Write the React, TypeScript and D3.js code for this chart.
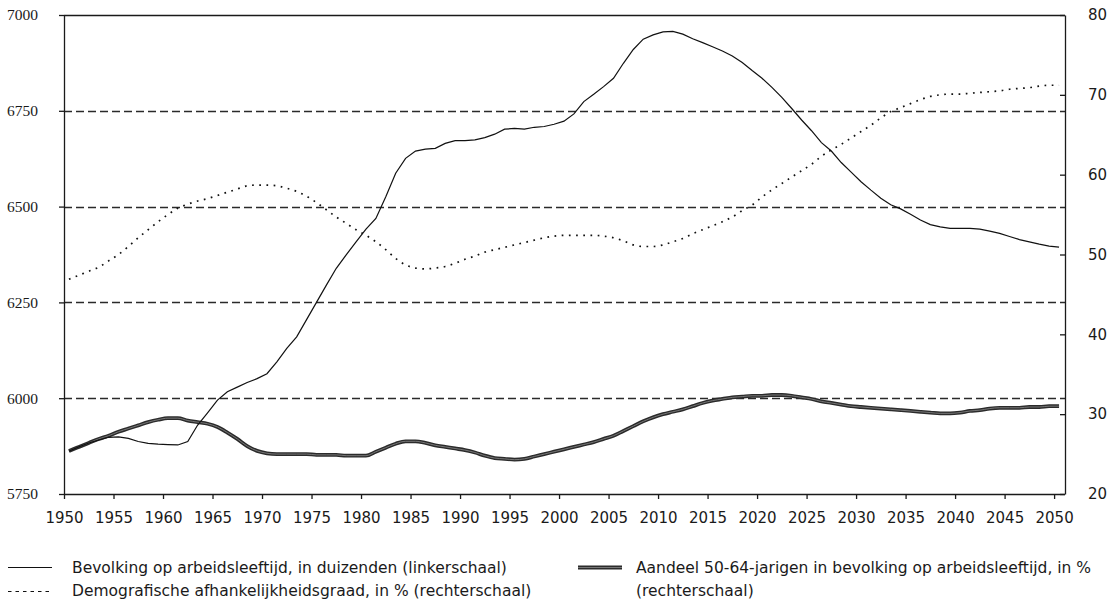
import React, { useEffect, useRef } from 'react'
import * as d3 from 'd3'

const firstYear = 1950
const lastYear = 2050
const years = d3.range(firstYear, lastYear + 1)

// Bevolking op arbeidsleeftijd, in duizenden (linkerschaal)
const bevolking = [
  5862, 5873, 5883, 5891, 5898, 5899, 5895, 5887, 5882, 5880,
  5879, 5878, 5887, 5930, 5962, 5995, 6017, 6029, 6041, 6051,
  6064, 6095, 6130, 6160, 6205, 6250, 6295, 6339, 6374, 6408,
  6441, 6469, 6526, 6587, 6626, 6645, 6650, 6652, 6665, 6672,
  6672, 6674, 6680, 6689, 6702, 6704, 6702, 6707, 6709, 6715,
  6723, 6742, 6774, 6793, 6813, 6835, 6874, 6910, 6937, 6948,
  6956, 6957, 6950, 6938, 6928, 6917, 6906, 6893, 6876, 6855,
  6835, 6811, 6785, 6756, 6726, 6698, 6667, 6645, 6615, 6590,
  6565, 6543, 6522, 6505, 6494, 6480, 6465, 6453, 6447, 6443,
  6443, 6443, 6441, 6436, 6430, 6422, 6414, 6408, 6402, 6397,
  6394,
]

// Demografische afhankelijkheidsgraad, in % (rechterschaal)
const afhankelijkheid = [
  46.9, 47.4, 47.9, 48.4, 49.2, 50.0, 51.0, 52.1, 53.1, 54.1,
  55.0, 55.8, 56.3, 56.7, 57.0, 57.4, 57.8, 58.2, 58.6, 58.7,
  58.7, 58.6, 58.3, 57.9, 57.3, 56.5, 55.6, 54.7, 53.9, 53.1,
  52.4, 51.6, 50.6, 49.5, 48.7, 48.3, 48.2, 48.3, 48.5, 48.9,
  49.4, 49.8, 50.3, 50.6, 50.9, 51.2, 51.5, 51.8, 52.1, 52.3,
  52.4, 52.4, 52.4, 52.4, 52.3, 52.1, 51.7, 51.2, 51.0, 51.0,
  51.2, 51.6, 52.0, 52.6, 53.1, 53.6, 54.1, 54.7, 55.5, 56.2,
  57.2, 58.1, 58.9, 59.7, 60.5, 61.3, 62.3, 63.1, 63.8, 64.6,
  65.4, 66.2, 67.1, 67.9, 68.4, 68.9, 69.4, 69.8, 70.0, 70.1,
  70.1, 70.2, 70.3, 70.4, 70.5, 70.7, 70.8, 70.9, 71.1, 71.2,
  71.2,
]

// Aandeel 50-64-jarigen in bevolking op arbeidsleeftijd, in % (rechterschaal)
const aandeel5064 = [
  25.4, 25.9, 26.4, 26.9, 27.3, 27.8, 28.2, 28.6, 29.0, 29.3,
  29.5, 29.5, 29.2, 29.0, 28.8, 28.4, 27.7, 26.9, 26.0, 25.4,
  25.1, 25.0, 25.0, 25.0, 25.0, 24.9, 24.9, 24.9, 24.8, 24.8,
  24.8, 25.3, 25.8, 26.3, 26.6, 26.6, 26.4, 26.1, 25.9, 25.7,
  25.5, 25.2, 24.8, 24.5, 24.4, 24.3, 24.4, 24.7, 25.0, 25.3,
  25.6, 25.9, 26.2, 26.5, 26.9, 27.3, 27.9, 28.5, 29.1, 29.6,
  30.0, 30.3, 30.6, 31.0, 31.4, 31.7, 31.9, 32.1, 32.2, 32.3,
  32.3, 32.4, 32.4, 32.3, 32.1, 31.9, 31.6, 31.4, 31.2, 31.0,
  30.9, 30.8, 30.7, 30.6, 30.5, 30.4, 30.3, 30.2, 30.1, 30.1,
  30.2, 30.4, 30.5, 30.7, 30.8, 30.8, 30.8, 30.9, 30.9, 31.0,
  31.0,
]

const leftTicks = [5750, 6000, 6250, 6500, 6750, 7000]
const gridValues = [6000, 6250, 6500, 6750]
const rightTicks = [20, 30, 40, 50, 60, 70, 80]
const yearTicks = d3.range(1950, 2051, 5)

const legendBevolking = 'Bevolking op arbeidsleeftijd, in duizenden (linkerschaal)'
const legendAfhankelijkheid = 'Demografische afhankelijkheidsgraad, in % (rechterschaal)'
const legendAandeel = ['Aandeel 50-64-jarigen in bevolking op arbeidsleeftijd, in %', '(rechterschaal)']

const sans = '"DejaVu Sans", Verdana, sans-serif'
const serif = '"Liberation Serif", "Times New Roman", serif'

const App = () => {
  const chartRef = useRef<SVGSVGElement>(null)

  useEffect(() => {
    const left = 64
    const right = 1065
    const top = 15
    const bottom = 494

    const svg = d3.select(chartRef.current)
    svg.selectAll('*').remove()

    const x = d3.scaleBand<number>().domain(years).range([left, left + 1000])
    const xTick = d3.scaleLinear().domain([firstYear, lastYear + 1]).range([left, left + 1000])
    const yL = d3.scaleLinear().domain([5750, 7000]).range([bottom, top])
    const yR = d3.scaleLinear().domain([20, 80]).range([bottom, top])
    const cx = (i: number) => (x(years[i]) as number) + x.bandwidth() / 2

    // dashed gridlines on the left scale
    svg
      .append('g')
      .selectAll('line')
      .data(gridValues)
      .join('line')
      .attr('x1', left)
      .attr('x2', right)
      .attr('y1', (d) => Math.round(yL(d)) + 0.5)
      .attr('y2', (d) => Math.round(yL(d)) + 0.5)
      .attr('stroke', '#2a2a2a')
      .attr('stroke-width', 1.3)
      .attr('stroke-dasharray', '8 4')

    // solid top line at 7000
    svg
      .append('line')
      .attr('x1', left)
      .attr('x2', right)
      .attr('y1', yL(7000) + 0.5)
      .attr('y2', yL(7000) + 0.5)
      .attr('stroke', '#1a1a1a')
      .attr('stroke-width', 1.3)

    // Left axis
    const axL = svg
      .append('g')
      .attr('transform', `translate(${left},0)`)
      .call(d3.axisLeft(yL).tickValues(leftTicks).tickSize(5).tickSizeOuter(0).tickPadding(21).tickFormat(d3.format('d')))
    axL.attr('font-family', serif).attr('font-size', 15.5).attr('color', '#1a1a1a')
    axL.selectAll('path, line').attr('stroke-width', 1.3)

    // Right axis
    const axR = svg
      .append('g')
      .attr('transform', `translate(${right},0)`)
      .call(d3.axisRight(yR).tickValues(rightTicks).tickSize(-5).tickSizeOuter(0).tickPadding(23))
    axR.attr('font-family', sans).attr('font-size', 15).attr('color', '#1a1a1a')
    axR.selectAll('path, line').attr('stroke-width', 1.3)

    // Bottom axis
    const axB = svg
      .append('g')
      .attr('transform', `translate(0,${bottom})`)
      .call(d3.axisBottom(xTick).tickValues(yearTicks).tickSize(5).tickSizeOuter(0).tickPadding(13).tickFormat(d3.format('d')))
    axB.attr('font-family', sans).attr('font-size', 15).attr('color', '#1a1a1a')
    axB.selectAll('path, line').attr('stroke-width', 1.3)
    axB.select('.domain').attr('d', `M${left},0.5H${right}`)

    // Aandeel 50-64-jarigen (thick double line)
    const lineR = d3
      .line<number>()
      .x((d, i) => cx(i))
      .y((d) => yR(d))
      .curve(d3.curveMonotoneX)
    svg.append('path').datum(aandeel5064).attr('d', lineR).attr('fill', 'none').attr('stroke', '#2b2b2b').attr('stroke-width', 3.8)
    svg.append('path').datum(aandeel5064).attr('d', lineR).attr('fill', 'none').attr('stroke', '#8a8a8a').attr('stroke-width', 0.8)

    // Demografische afhankelijkheidsgraad (dotted)
    svg
      .append('path')
      .datum(afhankelijkheid)
      .attr('d', lineR)
      .attr('fill', 'none')
      .attr('stroke', '#111')
      .attr('stroke-width', 1.7)
      .attr('stroke-dasharray', '1.7 5.5')

    // Bevolking op arbeidsleeftijd (thin solid)
    const lineL = d3
      .line<number>()
      .x((d, i) => cx(i))
      .y((d) => yL(d))
    svg.append('path').datum(bevolking).attr('d', lineL).attr('fill', 'none').attr('stroke', '#111').attr('stroke-width', 1.2)

    // Legend
    const lg = svg.append('g').attr('font-family', sans).attr('font-size', 15.5).attr('fill', '#1a1a1a')
    lg.append('line').attr('x1', 8).attr('x2', 52).attr('y1', 567.5).attr('y2', 567.5).attr('stroke', '#111').attr('stroke-width', 1.2)
    lg.append('text').attr('x', 72).attr('y', 573).text(legendBevolking)
    lg.append('line').attr('x1', 8).attr('x2', 52).attr('y1', 591.5).attr('y2', 591.5).attr('stroke', '#111').attr('stroke-width', 1.2).attr('stroke-dasharray', '3.5 4')
    lg.append('text').attr('x', 72).attr('y', 596).text(legendAfhankelijkheid)
    lg.append('line').attr('x1', 578).attr('x2', 622).attr('y1', 567.5).attr('y2', 567.5).attr('stroke', '#2b2b2b').attr('stroke-width', 3.8)
    lg.append('line').attr('x1', 578).attr('x2', 622).attr('y1', 567.5).attr('y2', 567.5).attr('stroke', '#8a8a8a').attr('stroke-width', 0.8)
    lg.append('text').attr('x', 636).attr('y', 573).text(legendAandeel[0])
    lg.append('text').attr('x', 636).attr('y', 596).text(legendAandeel[1])
  }, [])

  return (
    <svg
      ref={chartRef}
      width={1120}
      height={605}
      style={{ position: 'absolute', left: 0, top: 0, background: '#fff' }}
    ></svg>
  )
}

export default App
